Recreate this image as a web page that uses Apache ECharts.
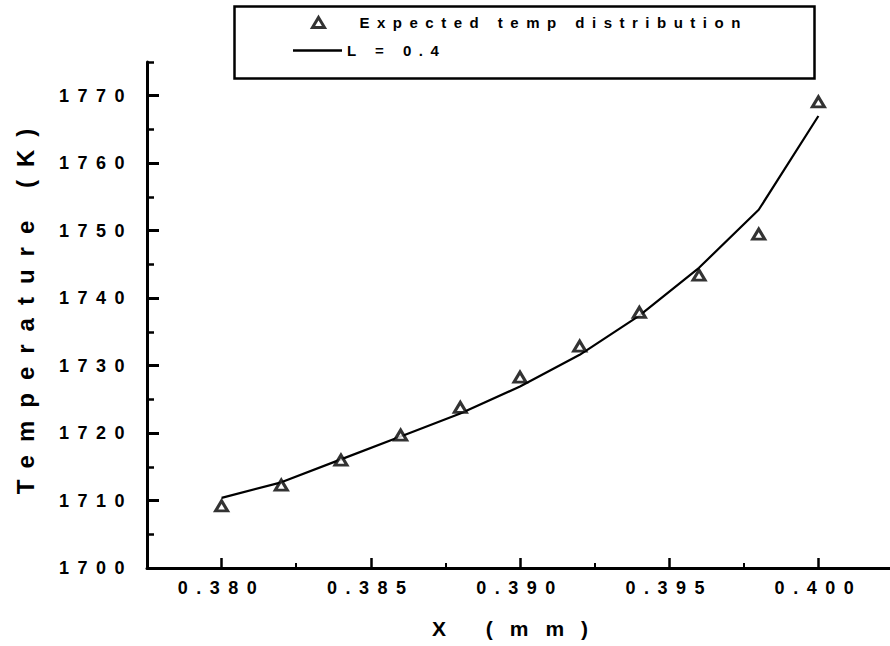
<!DOCTYPE html>
<html>
<head>
<meta charset="utf-8">
<script src="https://cdn.jsdelivr.net/npm/echarts@6/dist/echarts.min.js"></script>
<style>
  html, body { margin: 0; padding: 0; background: #fff; }
  #chart { width: 890px; height: 646px; }
  #chart text[style*="18px"] { letter-spacing: 8.5px; }
  #chart text[style*="15px"] { letter-spacing: 7.5px; }
  #chart text[style*="24px"] { letter-spacing: 13px; }
  #chart text[style*="21px"] { letter-spacing: 17px; }
</style>
</head>
<body>
<div id="chart"></div>
<script>
// ---- data ----
const xValues = [0.380, 0.382, 0.384, 0.386, 0.388, 0.390, 0.392, 0.394, 0.396, 0.398, 0.400];
const expectedTemps = [1709.2, 1712.3, 1716.0, 1719.7, 1723.8, 1728.3, 1732.9, 1737.9, 1743.4, 1749.5, 1769.1];
const lineTemps = [1710.4, 1712.7, 1716.1, 1719.5, 1722.9, 1726.9, 1731.6, 1737.4, 1744.5, 1753.1, 1767.0];
const xMajorTicks = [0.380, 0.385, 0.390, 0.395, 0.400];
const xMinorTicks = [0.3825, 0.3875, 0.3925, 0.3975];
const yMajorTicks = [1700, 1710, 1720, 1730, 1740, 1750, 1760, 1770];
const yMinorTicks = [1705, 1715, 1725, 1735, 1745, 1755, 1765, 1775];
const seriesNames = ['Expected temp distribution', 'L = 0.4'];

const chart = echarts.init(document.getElementById('chart'), null, { renderer: 'svg' });

const tickFont = { fontFamily: 'Liberation Sans', fontWeight: 'bold', fontSize: 18, color: '#000' };
const xMin = 0.3775, xMax = 0.4024, yMin = 1700, yMax = 1775;

const option = {
  backgroundColor: '#fff',
  animation: false,
  grid: { left: 147, top: 62, right: 0, bottom: 78 },
  xAxis: [
    {
      type: 'value', min: xMin, max: xMax, position: 'bottom',
      name: 'X (mm)', nameLocation: 'middle', nameGap: 50,
      nameTextStyle: { fontFamily: 'Liberation Sans', fontWeight: 'bold', fontSize: 21, color: '#000' },
      axisLine: { show: true, onZero: false, lineStyle: { color: '#000', width: 3 } },
      axisTick: { show: true, inside: true, length: 10, customValues: xMajorTicks, lineStyle: { color: '#000', width: 2.5 } },
      axisLabel: Object.assign({ margin: 11, customValues: xMajorTicks, formatter: v => v.toFixed(3) }, tickFont),
      splitLine: { show: false }
    },
    {
      type: 'value', min: xMin, max: xMax, position: 'bottom',
      axisLine: { show: false },
      axisTick: { show: true, inside: true, length: 5, customValues: xMinorTicks, lineStyle: { color: '#000', width: 2 } },
      axisLabel: { show: false },
      splitLine: { show: false }
    }
  ],
  yAxis: [
    {
      type: 'value', min: yMin, max: yMax, position: 'left',
      name: 'Temperature (K)', nameLocation: 'middle', nameGap: 110, nameRotate: 90,
      nameTextStyle: { fontFamily: 'Liberation Sans', fontWeight: 'bold', fontSize: 24, color: '#000', padding: [0, 0, 0, 20] },
      axisLine: { show: true, onZero: false, lineStyle: { color: '#000', width: 3 } },
      axisTick: { show: true, inside: true, length: 12, customValues: yMajorTicks, lineStyle: { color: '#000', width: 3 } },
      axisLabel: Object.assign({ margin: 14, customValues: yMajorTicks, formatter: v => String(Math.round(v)) }, tickFont),
      splitLine: { show: false }
    },
    {
      type: 'value', min: yMin, max: yMax, position: 'left',
      axisLine: { show: false },
      axisTick: { show: true, inside: true, length: 7, customValues: yMinorTicks, lineStyle: { color: '#000', width: 2.5 } },
      axisLabel: { show: false },
      splitLine: { show: false }
    }
  ],
  legend: [
    {
      data: [seriesNames[0]], left: 311, top: 15, padding: 0, orient: 'vertical',
      selectedMode: false, itemWidth: 12, itemHeight: 10,
      itemStyle: { color: '#fff', borderColor: '#000', borderWidth: 3 },
      textStyle: { fontFamily: 'Liberation Sans', fontWeight: 'bold', fontSize: 15, color: '#000', padding: [0, 0, 0, 30] }
    },
    {
      data: [{ name: seriesNames[1], icon: 'rect' }], left: 293, top: 43, padding: 0, orient: 'vertical',
      selectedMode: false, itemWidth: 49, itemHeight: 2.5,
      itemStyle: { color: '#000', borderWidth: 0 },
      textStyle: { fontFamily: 'Liberation Sans', fontWeight: 'bold', fontSize: 15, color: '#000' }
    }
  ],
  graphic: [
    {
      type: 'rect', left: 232, top: 4, silent: true,
      shape: { width: 580, height: 72 },
      style: { fill: 'none', stroke: '#000', lineWidth: 2.5 }
    }
  ],
  series: [
    {
      name: seriesNames[0], type: 'scatter', xAxisIndex: 0, yAxisIndex: 0,
      data: xValues.map((x, i) => [x, expectedTemps[i]]),
      symbol: 'triangle', symbolSize: [12, 10],
      itemStyle: { color: '#fff', borderColor: '#000', borderWidth: 3 },
      z: 3
    },
    {
      name: seriesNames[1], type: 'line', xAxisIndex: 0, yAxisIndex: 0,
      data: xValues.map((x, i) => [x, lineTemps[i]]),
      symbol: 'none', showSymbol: false,
      lineStyle: { color: '#000', width: 2.2 },
      itemStyle: { color: '#000' },
      z: 2
    }
  ]
};
chart.setOption(option);
</script>
</body>
</html>
